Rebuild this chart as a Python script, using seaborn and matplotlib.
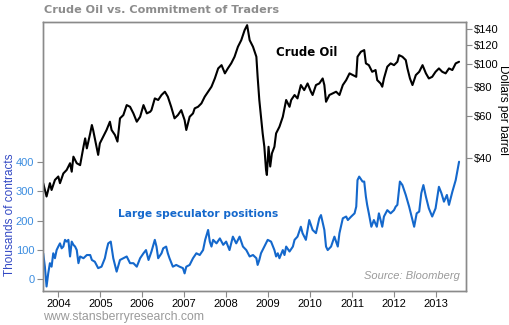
import matplotlib
matplotlib.use("Agg")
import matplotlib.pyplot as plt
import matplotlib.ticker as mticker
import seaborn as sns
import pandas as pd

# ---- data ----
crude_year = [
    2003.64, 2003.72, 2003.80, 2003.84, 2003.92, 2004.00, 2004.04, 2004.12, 2004.20, 2004.28,
    2004.32, 2004.36, 2004.44, 2004.52, 2004.60, 2004.64, 2004.68, 2004.76, 2004.80, 2004.83,
    2004.87, 2004.95, 2004.99, 2005.07, 2005.15, 2005.23, 2005.27, 2005.35, 2005.41, 2005.47,
    2005.55, 2005.63, 2005.71, 2005.79, 2005.87, 2005.95, 2006.03, 2006.11, 2006.19,
    2006.22, 2006.30, 2006.38, 2006.46, 2006.54, 2006.61, 2006.69, 2006.77, 2006.85, 2006.93,
    2007.01, 2007.05, 2007.13, 2007.21, 2007.25, 2007.33, 2007.41, 2007.49, 2007.57, 2007.65,
    2007.73, 2007.81, 2007.89, 2007.97, 2008.04, 2008.12, 2008.20, 2008.28, 2008.36, 2008.44,
    2008.50, 2008.56, 2008.64, 2008.72,
    2008.75, 2008.79, 2008.83, 2008.87, 2008.91, 2008.95, 2008.97, 2009.01, 2009.05, 2009.09,
    2009.15, 2009.19, 2009.27, 2009.35, 2009.43, 2009.51, 2009.55, 2009.63, 2009.70, 2009.78,
    2009.86, 2009.94, 2010.02, 2010.06, 2010.14, 2010.22, 2010.30, 2010.34, 2010.38, 2010.46,
    2010.54, 2010.62, 2010.70, 2010.78, 2010.86, 2010.94, 2011.02, 2011.10, 2011.13, 2011.21,
    2011.29, 2011.33, 2011.40, 2011.48, 2011.56, 2011.60, 2011.68, 2011.72, 2011.76, 2011.84,
    2011.92, 2012.00, 2012.08, 2012.12, 2012.20, 2012.28, 2012.32, 2012.38, 2012.44, 2012.52,
    2012.60, 2012.68, 2012.76, 2012.83, 2012.91, 2012.99, 2013.07, 2013.15, 2013.23, 2013.31,
    2013.39, 2013.47, 2013.55,
]
crude_price = [
    31.2, 27.4, 31.2, 29.2, 32.2, 33.3, 31.2, 34.3, 35.5, 37.9,
    34.9, 40.4, 37.9, 37.2, 44.5, 48.3, 43.8, 50.7, 55.0, 52.4,
    48.3, 41.1, 46.0, 49.1, 52.4, 56.8, 52.4, 49.9, 46.8, 58.7,
    60.6, 66.8, 65.7, 61.6, 56.8, 59.6, 66.8, 61.6, 62.6,
    63.6, 71.3, 70.2, 73.7, 76.1, 72.5, 65.7, 58.7, 60.6, 63.6,
    57.7, 52.4, 59.6, 61.6, 64.7, 65.7, 67.9, 72.5, 76.1, 79.9,
    86.6, 95.5, 98.6, 91.0, 95.5, 100.3, 107.0, 117.9, 125.8, 138.7,
    145.6, 125.8, 117.9, 107.0,
    88.0, 70.2, 59.6, 50.7, 44.5, 35.5, 33.8, 44.5, 36.7, 41.7,
    44.5, 50.7, 54.1, 59.6, 70.2, 65.7, 70.2, 73.7, 71.3, 81.2,
    77.3, 82.5, 76.1, 73.7, 81.2, 82.5, 86.6, 81.2, 69.0, 73.7,
    74.9, 76.1, 73.7, 81.2, 85.2, 91.0, 89.5, 88.0, 107.0, 112.3,
    114.2, 100.3, 98.6, 92.4, 94.0, 85.2, 82.5, 79.9, 86.6, 97.1,
    100.3, 98.6, 101.9, 108.7, 107.0, 103.6, 95.5, 86.6, 81.2, 89.5,
    92.4, 98.6, 91.0, 86.6, 88.0, 92.4, 95.5, 92.4, 91.0, 95.5,
    94.0, 100.3, 101.9,
]

spec_year = [
    2003.64, 2003.68, 2003.72, 2003.76, 2003.80, 2003.84, 2003.88, 2003.92, 2003.96, 2004.00,
    2004.04, 2004.08, 2004.12, 2004.16, 2004.20, 2004.24, 2004.28, 2004.32, 2004.36, 2004.40,
    2004.44, 2004.48, 2004.52, 2004.60, 2004.68, 2004.76, 2004.80, 2004.87, 2004.95, 2005.03,
    2005.11, 2005.15, 2005.19, 2005.25, 2005.31, 2005.39, 2005.47, 2005.55, 2005.63, 2005.71,
    2005.79, 2005.87, 2005.95, 2006.03, 2006.09, 2006.15,
    2006.22, 2006.30, 2006.34, 2006.38, 2006.46, 2006.50, 2006.57, 2006.61, 2006.65, 2006.73,
    2006.81, 2006.89, 2006.97, 2007.01, 2007.05, 2007.13, 2007.21, 2007.29, 2007.37, 2007.45,
    2007.50, 2007.57, 2007.61, 2007.65, 2007.69, 2007.77, 2007.85, 2007.93, 2008.00, 2008.08,
    2008.12, 2008.16, 2008.24, 2008.32, 2008.40, 2008.48, 2008.56, 2008.64, 2008.72,
    2008.75, 2008.79, 2008.83, 2008.91, 2008.99, 2009.07, 2009.15, 2009.19, 2009.23, 2009.27,
    2009.35, 2009.39, 2009.43, 2009.51, 2009.59, 2009.63, 2009.70, 2009.78, 2009.82, 2009.90,
    2009.98, 2010.06, 2010.14, 2010.22, 2010.26, 2010.34, 2010.38, 2010.42, 2010.50, 2010.58,
    2010.66, 2010.70, 2010.78, 2010.86, 2010.90, 2010.98, 2011.06, 2011.10, 2011.13, 2011.17,
    2011.25, 2011.29, 2011.33,
    2011.36, 2011.40, 2011.46, 2011.52, 2011.59, 2011.64, 2011.72, 2011.76, 2011.84, 2011.92,
    2012.00, 2012.04, 2012.08, 2012.14, 2012.20, 2012.28, 2012.36, 2012.44, 2012.48, 2012.54,
    2012.60, 2012.65, 2012.70, 2012.76, 2012.83, 2012.91, 2012.99, 2013.07, 2013.13, 2013.19,
    2013.26, 2013.31, 2013.39, 2013.47, 2013.55,
]
spec_value = [
    88, 42, -26, 19, 54, 42, 88, 71, 99, 111,
    122, 105, 111, 134, 128, 134, 77, 128, 117, 111,
    99, 54, 77, 71, 82, 82, 65, 59, 37, 42,
    71, 99, 122, 128, 71, 25, 65, 71, 77, 54,
    54, 42, 71, 88, 99, 65,
    94, 134, 111, 71, 88, 105, 111, 88, 71, 42,
    48, 42, 37, 19, 42, 48, 71, 88, 82, 99,
    134, 168, 128, 111, 134, 122, 139, 117, 128, 99,
    122, 145, 122, 145, 111, 99, 77, 82, 71,
    48, 65, 88, 111, 134, 128, 99, 77, 88, 71,
    99, 82, 111, 94, 111, 134, 145, 179, 157, 134,
    202, 168, 157, 208, 219, 168, 111, 99, 111, 145,
    111, 157, 208, 214, 202, 214, 225, 248, 339, 351,
    334, 334, 282,
    254, 225, 179, 202, 179, 225, 179, 214, 236, 225,
    236, 248, 254, 334, 322, 288, 248, 202, 179, 225,
    231, 294, 322, 282, 242, 214, 242, 316, 294, 265,
    288, 254, 299, 339, 402,
]

year_ticks = [2004, 2005, 2006, 2007, 2008, 2009, 2010, 2011, 2012, 2013]
left_ticks = [0, 100, 200, 300, 400]
price_ticks = [40, 60, 80, 100, 120, 140]
price_labels = ["$40", "$60", "$80", "$100", "$120", "$140"]

crude_df = pd.DataFrame({"year": crude_year, "price": crude_price})
spec_df = pd.DataFrame({"year": spec_year, "contracts": spec_value})

# ---- figure ----
sns.set_style("white")
plt.rcParams["font.family"] = ["Liberation Sans", "DejaVu Sans"]
BOLD = ["DejaVu Sans"]

fig = plt.figure(figsize=(5.1, 3.25), dpi=100)
ax = fig.add_axes([0.0837, 0.105, 0.8295, 0.827])
ax2 = ax.twinx()

sns.lineplot(data=spec_df, x="year", y="contracts", ax=ax, color="#1468cc",
             linewidth=1.5, estimator=None, sort=False)
sns.lineplot(data=crude_df, x="year", y="price", ax=ax2, color="black",
             linewidth=1.5, estimator=None, sort=False)

ax.set_xlim(2003.628, 2013.709)
ax.set_ylim(-41, 881)
ax2.set_yscale("log")
ax2.set_ylim(10.92, 150)

grey = "#8a8a8a"
for a in (ax, ax2):
    for s in a.spines.values():
        s.set_color(grey)
        s.set_linewidth(1.0)

ax.set_xticks(year_ticks)
ax.set_xticklabels([str(y) for y in year_ticks], fontsize=8, color="black")
ax.set_yticks(left_ticks)
ax.set_yticklabels([str(v) for v in left_ticks], fontsize=8, color="#3b8de0")
ax.tick_params(axis="x", direction="out", length=4, color=grey, pad=2, bottom=True)
ax.tick_params(axis="y", direction="out", length=4, color=grey, pad=2, left=True)

ax2.yaxis.set_major_locator(mticker.FixedLocator(price_ticks))
ax2.yaxis.set_major_formatter(mticker.FixedFormatter(price_labels))
ax2.yaxis.set_minor_locator(mticker.NullLocator())
ax2.tick_params(axis="y", direction="out", length=4, color=grey, pad=2,
                labelsize=8, labelcolor="black", right=True)

ax.set_xlabel("")
ax.set_ylabel("Thousands of contracts", fontsize=8.5, color="#3349c4")
ax.yaxis.label.set_ha("center")
ax.yaxis.label.set_va("center")
ax.yaxis.set_label_coords(-0.0773, 0.285)
ax2.set_ylabel("Dollars per barrel", fontsize=8.5, color="black", rotation=270)
ax2.yaxis.label.set_ha("center")
ax2.yaxis.label.set_va("center")
ax2.yaxis.set_label_coords(1.087, 0.673)

ax2.text(2009.93, 112, "Crude Oil", fontsize=8.5, fontweight="bold", family=BOLD,
         color="black", ha="center", va="center")
ax.text(2005.43, 223, "Large speculator positions", fontsize=7.7, fontweight="bold",
        family=BOLD, color="#1468cc", ha="left", va="center")
ax.text(0.985, 0.035, "Source: Bloomberg", transform=ax.transAxes, fontsize=8,
        style="italic", color="#9a9a9a", ha="right", va="bottom")

fig.text(44 / 510, 1 - 10 / 325, "Crude Oil vs. Commitment of Traders",
         fontsize=8.1, fontweight="bold", family=BOLD, color="#8c8c8c",
         ha="left", va="center")
fig.text(43 / 510, 1 - 317 / 325, "www.stansberryresearch.com",
         fontsize=8.8, color="#9a9a9a", ha="left", va="center")

fig.savefig("out.png", dpi=100)
